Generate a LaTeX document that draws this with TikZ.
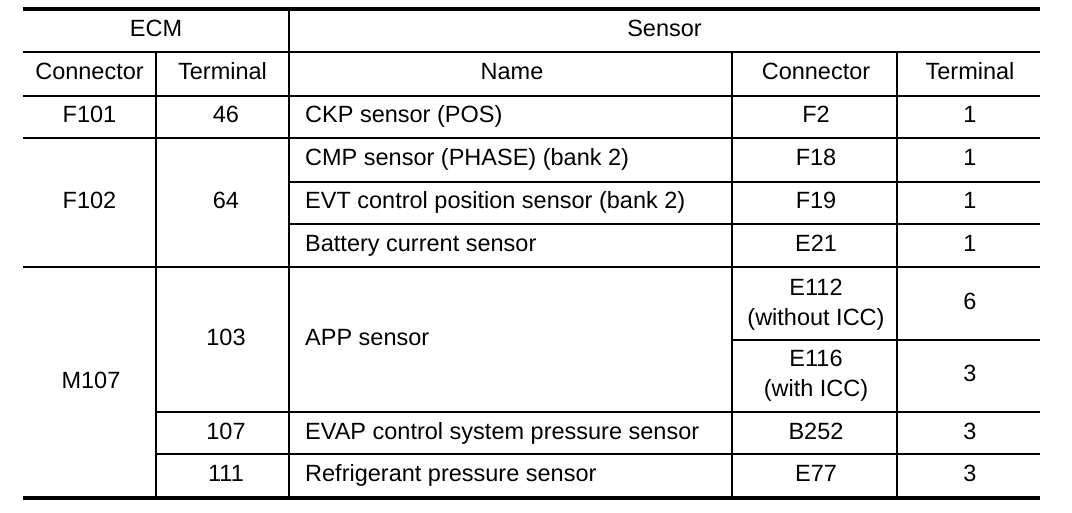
\documentclass[tikz,border=0pt]{standalone}
\usepackage{fontspec}
\setmainfont{Liberation Sans}
\tikzset{
  cell/.style = {inner sep = 0pt, anchor = base, font = \fontsize{23.5}{30}\selectfont},
  namecell/.style = {cell, anchor = base west},
  twocell/.style = {cell, align = center},
  edgeline/.style = {line width = 4pt},
  thickline/.style = {line width = 2.4pt},
  midline/.style = {line width = 1.8pt},
  thinline/.style = {line width = 1.2pt}
}
\begin{document}
\begin{tikzpicture}[x = 1pt, y = -1pt]
    \useasboundingbox (0,0) rectangle (1072,512);
    \draw [edgeline] (23,9) -- (1040,9);
    \draw [midline] (23,52) -- (1040,52);
    \draw [thickline] (23,96) -- (1040,96);
    \draw [thickline] (23,138) -- (1040,138);
    \draw [midline] (289,182) -- (1040,182);
    \draw [thinline] (289,224) -- (1040,224);
    \draw [thickline] (23,267) -- (1040,267);
    \draw [midline] (732,340) -- (1040,340);
    \draw [thickline] (156,412) -- (1040,412);
    \draw [thinline] (156,454) -- (1040,454);
    \draw [edgeline] (23,498) -- (1040,498);
    \draw [thinline] (156,52) -- (156,498);
    \draw [thickline] (289,9) -- (289,498);
    \draw [thinline] (732,52) -- (732,498);
    \draw [thinline] (897,52) -- (897,498);
    \node [cell] (ecm) at (156,36) {ECM};
    \node [cell] (sensor) at (664.5,36) {Sensor};
    \node [cell] (hconn) at (89.5,79) {Connector};
    \node [cell] (hterm) at (222.5,79) {Terminal};
    \node [cell] (hname) at (512,79) {Name};
    \node [cell] (hsconn) at (816,79) {Connector};
    \node [cell] (hsterm) at (970,79) {Terminal};
    \node [cell] (fconn) at (89.5,122) {F101};
    \node [cell] (fterm) at (226,122) {46};
    \node [namecell] (ckp) at (305,122) {CKP sensor (POS)};
    \node [cell] (ckpconn) at (816,122) {F2};
    \node [cell] (ckpterm) at (970,122) {1};
    \node [cell] (gconn) at (89.5,208) {F102};
    \node [cell] (gterm) at (226,208) {64};
    \node [namecell] (cmp) at (305,165) {CMP sensor (PHASE) (bank 2)};
    \node [cell] (cmpconn) at (816,165) {F18};
    \node [cell] (cmpterm) at (970,165) {1};
    \node [namecell] (evt) at (305,208) {EVT control position sensor (bank 2)};
    \node [cell] (evtconn) at (816,208) {F19};
    \node [cell] (evtterm) at (970,208) {1};
    \node [namecell] (bat) at (305,251) {Battery current sensor};
    \node [cell] (batconn) at (816,251) {E21};
    \node [cell] (batterm) at (970,251) {1};
    \node [cell] (mconn) at (91,388) {M107};
    \node [cell] (appterm) at (226,345) {103};
    \node [namecell] (app) at (305,345) {APP sensor};
    \node [twocell] (appconna) at (816,325) {E112\\(without ICC)};
    \node [cell] (apptermb) at (970,309) {6};
    \node [twocell] (appconnb) at (816,396) {E116\\(with ICC)};
    \node [cell] (apptermc) at (970,381) {3};
    \node [cell] (evapterm) at (226,439) {107};
    \node [namecell] (evap) at (305,439) {EVAP control system pressure sensor};
    \node [cell] (evapconn) at (816,439) {B252};
    \node [cell] (evapsterm) at (970,439) {3};
    \node [cell] (refterm) at (226,481) {111};
    \node [namecell] (ref) at (305,481) {Refrigerant pressure sensor};
    \node [cell] (refconn) at (816,481) {E77};
    \node [cell] (refsterm) at (970,481) {3};
\end{tikzpicture}
\end{document}
